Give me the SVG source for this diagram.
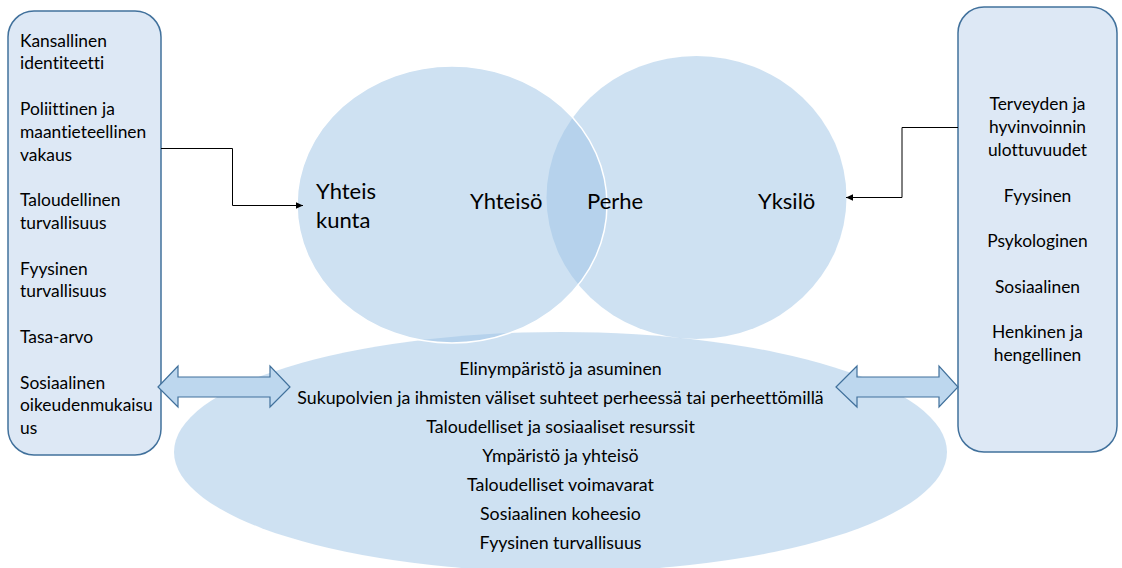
<svg xmlns="http://www.w3.org/2000/svg" width="1122" height="568" viewBox="0 0 1122 568">
  <defs>
    <style>
      .box { fill: #dde8f5; stroke: #41719c; stroke-width: 1.5; }
      .blob { fill: #9dc3e6; fill-opacity: 0.5; }
      .blob-edge { stroke: #ffffff; stroke-width: 1.5; }
      .dbl { fill: #bdd7ee; stroke: #41719c; stroke-width: 1.2; stroke-linejoin: miter; }
      .link { fill: none; stroke: #000000; stroke-width: 1; }
      text { font-family: Lato, "Liberation Sans", sans-serif; fill: #000000; font-variant-ligatures: none; font-feature-settings: "liga" 0, "clig" 0; }
      .side { font-size: 17.4px; }
      .mid { font-size: 17.8px; text-anchor: middle; }
      .big { font-size: 22px; }
      .c { text-anchor: middle; }
    </style>
    <marker id="tip" markerWidth="8" markerHeight="8" refX="7" refY="4" orient="auto" markerUnits="userSpaceOnUse">
      <path d="M0,0.8 L7,4 L0,7.2 Z" fill="#000000"/>
    </marker>
  </defs>

  <!-- bottom ellipse: living conditions -->
  <g id="node-conditions">
    <ellipse class="blob" cx="560.5" cy="452" rx="386.5" ry="120"/>
    <text class="mid" x="560.5" y="375">Elinympäristö ja asuminen</text>
    <text class="mid" x="560.5" y="404">Sukupolvien ja ihmisten väliset suhteet perheessä tai perheettömillä</text>
    <text class="mid" x="560.5" y="433">Taloudelliset ja sosiaaliset resurssit</text>
    <text class="mid" x="560.5" y="462">Ympäristö ja yhteisö</text>
    <text class="mid" x="560.5" y="491">Taloudelliset voimavarat</text>
    <text class="mid" x="560.5" y="520">Sosiaalinen koheesio</text>
    <text class="mid" x="560.5" y="549">Fyysinen turvallisuus</text>
  </g>

  <!-- right circle: individual -->
  <g id="node-individual">
    <ellipse class="blob" cx="696.5" cy="197.5" rx="150" ry="141.5"/>
    <text class="big" x="758" y="209">Yksilö</text>
  </g>

  <!-- left circle: society / community -->
  <g id="node-society">
    <ellipse class="blob blob-edge" cx="452" cy="204.5" rx="155" ry="138.5"/>
    <text class="big" x="316" y="199">Yhteis</text>
    <text class="big" x="316" y="228">kunta</text>
    <text class="big" x="470" y="209">Yhteisö</text>
  </g>

  <!-- overlap of the two circles: family -->
  <g id="node-family">
    <text class="big" x="587" y="209">Perhe</text>
  </g>

  <!-- left box: society level factors -->
  <g id="node-society-factors">
    <rect class="box" x="8" y="11" width="153" height="444" rx="26" ry="26"/>
    <text class="side" x="20" y="46.5">Kansallinen</text>
    <text class="side" x="20" y="69.3">identiteetti</text>
    <text class="side" x="20" y="114.9">Poliittinen ja</text>
    <text class="side" x="20" y="137.7">maantieteellinen</text>
    <text class="side" x="20" y="160.5">vakaus</text>
    <text class="side" x="20" y="206.1">Taloudellinen</text>
    <text class="side" x="20" y="228.9">turvallisuus</text>
    <text class="side" x="20" y="274.5">Fyysinen</text>
    <text class="side" x="20" y="297.3">turvallisuus</text>
    <text class="side" x="20" y="342.9">Tasa-arvo</text>
    <text class="side" x="20" y="388.5">Sosiaalinen</text>
    <text class="side" x="20" y="411.3">oikeudenmukaisu</text>
    <text class="side" x="20" y="434.1">us</text>
  </g>

  <!-- right box: health and wellbeing dimensions -->
  <g id="node-wellbeing">
    <rect class="box" x="958" y="7" width="159" height="445" rx="26" ry="26"/>
    <text class="side c" x="1037.5" y="110">Terveyden ja</text>
    <text class="side c" x="1037.5" y="133">hyvinvoinnin</text>
    <text class="side c" x="1037.5" y="156">ulottuvuudet</text>
    <text class="side c" x="1037.5" y="201.5">Fyysinen</text>
    <text class="side c" x="1037.5" y="247">Psykologinen</text>
    <text class="side c" x="1037.5" y="292.5">Sosiaalinen</text>
    <text class="side c" x="1037.5" y="338">Henkinen ja</text>
    <text class="side c" x="1037.5" y="361">hengellinen</text>
  </g>

  <!-- connectors -->
  <g id="connectors">
    <path class="link" d="M161,148.5 H232.5 V205.5 H303" marker-end="url(#tip)"/>
    <path class="link" d="M958,127.5 H902 V197.5 H846" marker-end="url(#tip)"/>
    <path class="dbl" d="M158,387 L178,366 L178,377 L270,377 L270,366 L290,387 L270,407 L270,397 L178,397 L178,407 Z"/>
    <path class="dbl" d="M836,387 L857,366 L857,377 L939,377 L939,366 L958,387 L939,407 L939,397 L857,397 L857,407 Z"/>
  </g>
</svg>
